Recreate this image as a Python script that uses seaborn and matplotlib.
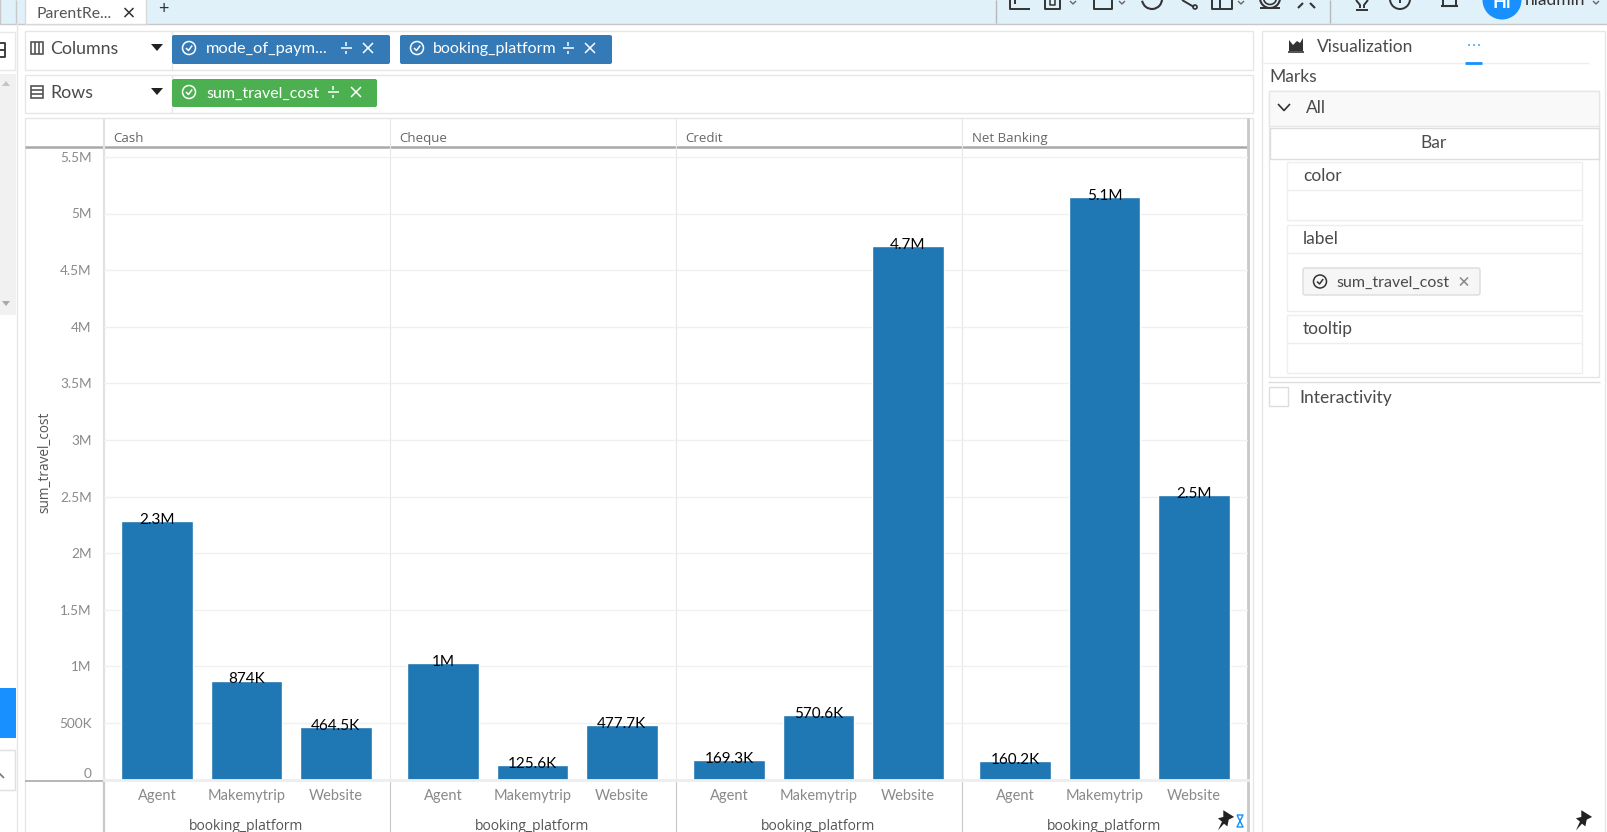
import numpy as np
import pandas as pd
import matplotlib
matplotlib.use('Agg')
import matplotlib.pyplot as plt
from matplotlib.patches import Rectangle, FancyBboxPatch, Circle, Polygon, Arc
from matplotlib.transforms import ScaledTranslation
import seaborn as sns

# Chart data
payment_modes = ['Cash', 'Cheque', 'Credit', 'Net Banking']
platforms = ['Agent', 'Makemytrip', 'Website']
cash_cost = [2280000, 874000, 464500]
cheque_cost = [1030000, 125600, 477700]
credit_cost = [169300, 570600, 4710000]
net_banking_cost = [160200, 5145000, 2510000]
cash_labels = ['2.3M', '874K', '464.5K']
cheque_labels = ['1M', '125.6K', '477.7K']
credit_labels = ['169.3K', '570.6K', '4.7M']
net_banking_labels = ['160.2K', '5.1M', '2.5M']
y_ticks = [0, 500000, 1000000, 1500000, 2000000, 2500000, 3000000, 3500000,
           4000000, 4500000, 5000000, 5500000]
y_tick_labels = ['0', '500K', '1M', '1.5M', '2M', '2.5M', '3M', '3.5M',
                 '4M', '4.5M', '5M', '5.5M']

W, H = 1607, 832
BAR_COLOR = '#1f77b4'
BLUE = '#1890ff'
UI_TEXT = '#4a4a4a'
EDGE = '#e6e6e6'

sns.set_theme(style='white')
plt.rcParams['font.family'] = ['Lato', 'DejaVu Sans']

df = pd.DataFrame({
    'mode_of_payment': np.repeat(payment_modes, 3),
    'booking_platform': platforms * 4,
    'sum_travel_cost': cash_cost + cheque_cost + credit_cost + net_banking_cost,
})
labels = cash_labels + cheque_labels + credit_labels + net_banking_labels

fig = plt.figure(figsize=(W / 100, H / 100), dpi=100, facecolor='white')

# Overlay in screen pixels for the application chrome around the chart
ui = fig.add_axes([0, 0, 1, 1], zorder=0)
ui.set_xlim(0, W)
ui.set_ylim(H, 0)
ui.axis('off')


def box(x0, y0, x1, y1, fc='white', ec=EDGE, lw=1.0, z=1):
    ui.add_patch(Rectangle((x0, y0), x1 - x0, y1 - y0, fc=fc, ec=ec, lw=lw, zorder=z))


def pill(x0, y0, x1, y1, fc, ec='none'):
    ui.add_patch(FancyBboxPatch((x0 + 2, y0 + 2), x1 - x0 - 4, y1 - y0 - 4,
                                boxstyle='round,pad=2,rounding_size=2',
                                fc=fc, ec=ec, lw=1, zorder=2))


def line(xs, ys, color=EDGE, lw=1.0, z=1):
    ui.plot(xs, ys, color=color, lw=lw, zorder=z, solid_capstyle='butt')


def label(x, y, s, size=12.5, color=UI_TEXT, ha='left', **kw):
    ui.text(x, y, s, fontsize=size, color=color, ha=ha, va='center', zorder=3, **kw)


def check(cx, cy, color):
    ui.add_patch(Circle((cx, cy), 6.5, fc='none', ec=color, lw=1.1, zorder=3))
    line([cx - 3, cx - 0.5, cx + 3.2], [cy, cy + 2.5, cy - 2.5], color, 1.1, 3)


def cross(cx, cy, color, r=5, lw=1.1):
    line([cx - r, cx + r], [cy - r, cy + r], color, lw, 3)
    line([cx - r, cx + r], [cy + r, cy - r], color, lw, 3)


def divide(cx, cy, color='white'):
    line([cx - 5.5, cx + 5.5], [cy, cy], color, 1.1, 3)
    line([cx, cx], [cy - 6, cy - 2.5], color, 1.1, 3)
    line([cx, cx], [cy + 2.5, cy + 6], color, 1.1, 3)


def pin(cx, cy, s=1.35):
    shape = [(-2, -8), (6, -3), (2, -1), (1, 4), (-1.5, 2), (-6, 7), (-3, 0.5), (-6, -2), (-2, -3)]
    ui.add_patch(Polygon([(cx + s * a, cy + s * b) for a, b in shape],
                         fc='#222222', ec='none', zorder=4))


# Top bar
box(0, -2, W + 2, 23.5, fc='#e1f1fa', ec='#c8c8c8')
box(25, -2, 146, 23.5, fc='white', ec='#d8d8d8')
label(37, 13.5, 'ParentRe...', size=11.3, color='#555555')
cross(129, 12.5, '#333333', 4.5)
label(163, 8.5, '+', size=13, color='#333333', ha='center')
line([16, 16], [0, 23], '#c8c8c8')
line([995.5, 995.5], [0, 23], '#b8b8b8')
line([1330, 1330], [0, 23], '#b8b8b8')

# Toolbar icons, clipped by the top of the window
c = '#333333'
line([1010, 1010, 1030], [0, 9, 9], c, 1.4, 3)
line([1015, 1015], [0, 4], c, 1.4, 3)
line([1045, 1045, 1060, 1060], [0, 9, 9, 0], c, 1.4, 3)
line([1050, 1050, 1055, 1055], [0, 5, 5, 0], c, 1.1, 3)
line([1094, 1094, 1112, 1112], [0, 9, 9, 0], c, 1.4, 3)
line([1212, 1212, 1232, 1232], [0, 9, 9, 0], c, 1.4, 3)
line([1220, 1220], [0, 9], c, 1.4, 3)
line([1182, 1194], [0, 7], c, 1.4, 3)
ui.add_patch(Circle((1195, 7), 2, fc='none', ec=c, lw=1.2, zorder=3))
ui.add_patch(Arc((1152, -1), 20, 20, theta1=0, theta2=170, ec=c, lw=1.5, zorder=3))
ui.add_patch(Arc((1270, -2), 20, 20, theta1=0, theta2=180, ec=c, lw=1.5, zorder=3))
ui.add_patch(Arc((1270, -2), 13, 13, theta1=0, theta2=180, ec=c, lw=1.2, zorder=3))
line([1260, 1280], [8, 8], c, 1.4, 3)
for vx in (1073, 1122, 1241):
    line([vx - 3, vx, vx + 3], [1, 4, 1], '#666666', 1, 3)
line([1298, 1303], [8, 3], c, 1.5, 3)
line([1310, 1315], [3, 8], c, 1.5, 3)
line([1356, 1360, 1360], [0, 5, 8], c, 1.4, 3)
line([1368, 1364, 1364], [0, 5, 8], c, 1.4, 3)
line([1356, 1368], [10, 10], c, 1.4, 3)
ui.add_patch(Circle((1400, -1), 10, fc='none', ec=c, lw=1.4, zorder=3))
line([1400, 1400], [0, 3], c, 1.4, 3)
line([1441, 1458], [6, 6], c, 1.5, 3)
line([1443, 1443], [0, 6], c, 1.4, 3)
line([1456, 1456], [0, 6], c, 1.4, 3)
ui.add_patch(Circle((1502, 0), 19.5, fc=BLUE, ec='none', zorder=3))
label(1502, 3, 'Hi', size=13, color='white', ha='center', fontweight='bold')
label(1525, 0, 'hiadmin', size=12.5, color='#333333')
line([1593, 1596, 1599], [1, 4, 1], '#666666', 1, 3)

# Left sidebar
line([16.5, 16.5], [23, H], EDGE)
box(-2, 32, 15, 70, ec='#e8e8e8')
box(-2, 74, 16, 315, fc='#f1f1f1', ec='none')
ui.add_patch(Polygon([(2, 86), (6, 81), (10, 86)], fc='#c4c4c4', ec='none', zorder=3))
ui.add_patch(Polygon([(2, 301), (6, 306), (10, 301)], fc='#a8a8a8', ec='none', zorder=3))
line([-1, 5, 5, -1], [43, 43, 57, 57], '#333333', 1.3, 3)
line([-1, 5], [50, 50], '#333333', 1.3, 3)
box(-2, 688, 16, 738, fc=BLUE, ec='none')
box(-2, 750, 15, 790, ec='#e0e0e0')
line([-1, 4], [773, 778], '#777777', 1.2, 3)

# Columns and Rows shelves
box(24.5, 31, 1253, 69.5)
box(24.5, 75, 1253, 113)
line([171.5, 171.5], [31, 69.5])
line([171.5, 171.5], [75, 113])
box(31, 42, 43, 54, fc='none', ec='#555555', lw=1.2, z=3)
line([35, 35], [42, 54], '#555555', 1.2, 3)
line([39, 39], [42, 54], '#555555', 1.2, 3)
box(31, 86, 43, 98, fc='none', ec='#555555', lw=1.2, z=3)
line([31, 43], [90, 90], '#555555', 1.2, 3)
line([31, 43], [94, 94], '#555555', 1.2, 3)
label(50, 49.5, 'Columns', size=12.8)
label(50, 93.5, 'Rows', size=12.8)
for ty in (48, 92):
    ui.add_patch(Polygon([(151, ty - 4), (163, ty - 4), (157, ty + 3)], fc='#222222', ec='none', zorder=3))

pill(172, 35, 390, 64, '#337ab7')
pill(400, 35, 612, 64, '#337ab7')
pill(172, 79, 377, 107, '#4caf50')
check(189, 48, 'white')
check(417, 48, 'white')
check(189, 92, 'white')
label(206, 49.5, 'mode_of_paym...', size=11.8, color='white')
label(433, 49.5, 'booking_platform', size=11.5, color='white')
label(206, 93.5, 'sum_travel_cost', size=11.5, color='white')
divide(346, 48)
cross(368, 48, 'white')
divide(568, 48)
cross(590, 48, 'white')
divide(333, 92)
cross(356, 92, 'white')

# Frame around the chart
box(24.5, 118, 1253, H + 5)
line([24.5, 1247], [146.7, 146.7], '#a9a9a9', 1.8, 3)
line([24.5, 103], [780.5, 780.5], '#b0b0b0', 1.3, 3)
line([103.5, 103.5], [118, 780], '#e2e2e2', 1.6, 3)
line([103.5, 103.5], [780, H], '#c8c8c8', 1.6, 3)
line([1247.5, 1247.5], [118, H], '#c8c8c8', 2, 3)

# Right hand panel
box(1262, 31, 1605, H + 5)
ui.add_patch(Polygon([(1289, 51), (1289, 40), (1293, 45), (1297, 41), (1300, 43), (1303, 38), (1303, 51)],
                     fc='#333333', ec='none', zorder=3))
line([1288, 1304], [51.5, 51.5], '#333333', 1.2, 3)
label(1317, 46.5, 'Visualization')
line([1262, 1589], [62.5, 62.5], '#eeeeee')
line([1465, 1482], [62.5, 62.5], BLUE, 2, 3)
for dx in (1469, 1474, 1479):
    ui.add_patch(Circle((dx, 45), 0.9, fc=BLUE, ec='none', zorder=3))
label(1269, 76.5, 'Marks')
box(1269, 90.5, 1599, 377)
box(1269, 90.5, 1599, 126, fc='#f9f9f9')
line([1278, 1284, 1290], [104, 110.5, 104], '#333333', 1.2, 3)
label(1306, 108, 'All')
box(1270, 128, 1599, 158.5, ec='#dddddd')
label(1434, 142.5, 'Bar', ha='center')
for top, bottom, head, name in [(162, 220, 190, 'color'), (225, 311, 253, 'label'), (315, 373, 343, 'tooltip')]:
    box(1287, top, 1582, bottom, ec='#eeeeee')
    line([1287, 1582], [head, head], '#eeeeee')
    label(1303, top + 14, name)
pill(1303, 268, 1480, 295, '#f6f6f6', ec='#dcdcdc')
check(1320, 281.5, '#333333')
label(1336, 282.5, 'sum_travel_cost', size=11.5)
cross(1464, 281.5, '#888888', 4)
line([1268, 1600], [382, 382], '#dddddd')
box(1269, 387, 1288, 406, ec='#dddddd')
label(1299, 398.5, 'Interactivity', size=12.6)

# Pins and the hourglass in the bottom corner
pin(1226, 821)
pin(1584, 821)
hx, hy = 1240, 821
line([hx - 3, hx + 3, hx - 3, hx + 3, hx - 3], [hy - 6, hy - 6, hy + 6, hy + 6, hy - 6], BLUE, 1.0, 4)

# One axes per payment mode, all on the same y scale
panel_edges = [103.5, 389.5, 675.5, 961.5, 1247.5]
y_base, y_top = 779.5, 147.5
px_per_million = 113.2
y_max = (y_base - y_top) / px_per_million * 1e6

for i, mode in enumerate(payment_modes):
    x0, x1 = panel_edges[i], panel_edges[i + 1]
    ax = fig.add_axes([x0 / W, 1 - y_base / H, (x1 - x0) / W, (y_base - y_top) / H], zorder=2)
    ax.patch.set_alpha(0)
    ax.set_axisbelow(True)
    sub = df[df['mode_of_payment'] == mode]
    sns.barplot(data=sub, x='booking_platform', y='sum_travel_cost', color=BAR_COLOR,
                saturation=1, width=0.8, ax=ax)
    ax.set_xlim(-0.6, 2.6)
    ax.set_ylim(0, y_max)
    ax.set_yticks(y_ticks)
    ax.grid(axis='y', color='#f0f0f0', lw=1.0)
    ax.set_xlabel('booking_platform', fontsize=10, color='#555555',
                  family=['Open Sans', 'DejaVu Sans'], labelpad=11.5)
    ax.tick_params(axis='x', length=6, color='#e4e4e4', labelsize=10.5, labelcolor='#8a8a8a', pad=0.5)
    for side in ['top', 'left', 'right']:
        ax.spines[side].set_visible(False)
    ax.spines['bottom'].set_color('#eeeeee')
    ax.spines['bottom'].set_linewidth(2)
    if i == 0:
        ax.set_yticklabels(y_tick_labels)
        ax.tick_params(axis='y', length=7, color='#e8e8e8', labelsize=9.8, labelcolor='#8a8a8a', pad=1.5)
        # the 0 label sits a little above the baseline
        zero = ax.get_yticklabels()[0]
        zero.set_transform(zero.get_transform() + ScaledTranslation(0, 6.5 / 100, fig.dpi_scale_trans))
        ax.set_ylabel('sum_travel_cost', fontsize=9.8, color='#555555',
                      family=['Open Sans', 'DejaVu Sans'])
        ax.yaxis.set_label_coords((52 - x0) / (x1 - x0), (y_base - 462) / (y_base - y_top))
    else:
        ax.tick_params(axis='y', length=0, labelleft=False)
        ax.set_ylabel('')
    # Facet header above the plot area
    ui.text(x0 + 10, 138.5, mode, fontsize=9.5, color='#666666', va='center', zorder=3,
            family=['Open Sans', 'DejaVu Sans'])
    if i > 0:
        line([x0, x0], [118, 780], '#e6e6e6', 0.8, 3)
        line([x0, x0], [780, H], '#c8c8c8', 0.8, 3)
    # Value labels sit right on top of each bar
    for j, platform in enumerate(platforms):
        value = sub.loc[sub['booking_platform'] == platform, 'sum_travel_cost'].iloc[0]
        ax.annotate(labels[i * 3 + j], (j, value), xytext=(0, 1), textcoords='offset points',
                    ha='center', va='center', fontsize=11, color='black', annotation_clip=False)

fig.savefig('out.png', dpi=100)
